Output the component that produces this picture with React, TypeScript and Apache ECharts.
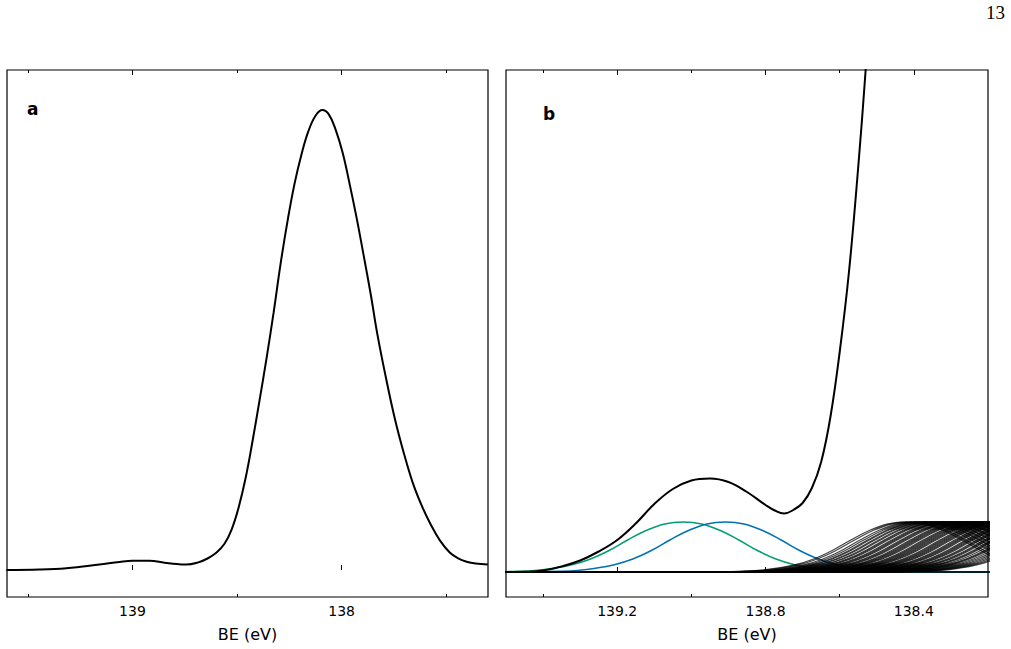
import React, { useEffect, useRef } from "react";
import * as echarts from "echarts";

// ---------- Panel a : full spectrum ----------
const aBE = [
  139.603, 139.445, 139.316, 139.158, 139.062, 139.0, 138.919, 138.847, 138.789, 138.742,
  138.689, 138.641, 138.598, 138.56, 138.526, 138.493, 138.459, 138.426, 138.392, 138.359,
  138.325, 138.292, 138.258, 138.225, 138.191, 138.158, 138.124, 138.092, 138.062, 138.029,
  137.995, 137.962, 137.928, 137.895, 137.861, 137.828, 137.789, 137.746, 137.703, 137.66,
  137.617, 137.574, 137.531, 137.483, 137.445, 137.402, 137.359, 137.301,
];
const aIntensity = [
  0, 0.001, 0.004, 0.012, 0.0175, 0.02, 0.02, 0.016, 0.0128, 0.0117,
  0.016, 0.025, 0.038, 0.057, 0.088, 0.135, 0.2, 0.28, 0.37, 0.46,
  0.56, 0.665, 0.76, 0.84, 0.905, 0.955, 0.988, 1.0, 0.991, 0.958,
  0.907, 0.84, 0.765, 0.685, 0.6, 0.51, 0.42, 0.33, 0.255, 0.19,
  0.14, 0.099, 0.065, 0.038, 0.026, 0.018, 0.014, 0.012,
];

// ---------- Panel b : zoomed region ----------
const bBE = [
  139.5, 139.45, 139.4, 139.35, 139.3, 139.25, 139.2, 139.15, 139.1, 139.05,
  139.0, 138.95, 138.9, 138.85, 138.8, 138.775, 138.75, 138.725, 138.7, 138.675,
  138.65, 138.625, 138.6, 138.575, 138.55, 138.53, 138.52,
];
const bTotal = [
  0, 0.005, 0.03, 0.11, 0.23, 0.41, 0.64, 0.97, 1.36, 1.66,
  1.83, 1.87, 1.8, 1.6, 1.34, 1.23, 1.17, 1.24, 1.38, 1.68,
  2.2, 3.1, 4.4, 6.0, 8.1, 10.04, 11.2,
];

// component peak profile (distance from centre in eV, height)
const profileOffsets = [0, 0.05, 0.1, 0.15, 0.2, 0.25, 0.3, 0.35, 0.4, 0.45, 0.5, 0.6];
const profileHeights = [1.0, 0.96, 0.83, 0.64, 0.43, 0.26, 0.145, 0.075, 0.032, 0.013, 0.004, 0];

const greenCenter = 139.022;
const blueCenter = 138.908;
const fanCenters = [
  138.42, 138.41, 138.395, 138.385, 138.375, 138.37, 138.36, 138.355, 138.345, 138.34,
  138.33, 138.325, 138.32, 138.31, 138.305, 138.3, 138.295, 138.285, 138.28, 138.275,
  138.27, 138.26, 138.255, 138.25, 138.245, 138.24, 138.235, 138.225, 138.22, 138.215,
  138.21, 138.205, 138.2, 138.195, 138.19, 138.18, 138.175, 138.17, 138.165, 138.16,
  138.155, 138.15, 138.14, 138.135, 138.13, 138.125, 138.12, 138.11, 138.105, 138.1,
  138.095, 138.09, 138.08, 138.075, 138.07, 138.06, 138.055, 138.05, 138.04, 138.035,
  138.03, 138.02, 138.01, 138.005, 138.0, 137.99, 137.98, 137.97, 137.96, 137.95,
  137.94, 137.93,
];
const baselineLevel = 0;

// axis ticks
const aMajorTicks = [139, 138];
const aMinorTicks = [139.5, 138.5, 137.5];
const bMajorTicks = [139.2, 138.8, 138.4];
const bMinorTicks = [139.4, 139.0, 138.6];

const FONT = "DejaVu Sans";

function componentCurve(center: number): number[][] {
  const pts: number[][] = [];
  pts.push([139.8, 0]);
  for (let i = profileOffsets.length - 1; i >= 0; i--) {
    pts.push([center + profileOffsets[i], profileHeights[i]]);
  }
  for (let i = 1; i < profileOffsets.length; i++) {
    pts.push([center - profileOffsets[i], profileHeights[i]]);
  }
  pts.push([137.7, 0]);
  return pts;
}

function xAxes(gridIndex: number, min: number, max: number, major: number[], minor: number[]) {
  const base = {
    type: "value",
    gridIndex,
    min,
    max,
    inverse: true,
    splitLine: { show: false },
    axisLine: { show: false },
  };
  const tickStyle = { color: "#000", width: 1 };
  return [
    {
      ...base,
      position: "bottom",
      axisTick: { show: true, inside: true, length: 5, customValues: major, lineStyle: tickStyle },
      axisLabel: {
        show: true,
        customValues: major,
        margin: 7,
        fontSize: 14,
        fontFamily: FONT,
        color: "#000",
      },
      name: "BE (eV)",
      nameLocation: "middle",
      nameGap: 29,
      nameTextStyle: { fontSize: 16, fontFamily: FONT, color: "#000" },
    },
    {
      ...base,
      position: "bottom",
      axisTick: { show: true, inside: true, length: 3, customValues: minor, lineStyle: tickStyle },
      axisLabel: { show: false },
    },
    {
      ...base,
      position: "top",
      axisTick: { show: true, inside: true, length: 5, customValues: major, lineStyle: tickStyle },
      axisLabel: { show: false },
    },
    {
      ...base,
      position: "top",
      axisTick: { show: true, inside: true, length: 3, customValues: minor, lineStyle: tickStyle },
      axisLabel: { show: false },
    },
  ];
}

export default function App() {
  const ref = useRef<HTMLDivElement>(null);
  useEffect(() => {
    if (!ref.current) return;
    const chart = echarts.init(ref.current, null, { renderer: "svg" });
    const yBase = {
      type: "value",
      axisLine: { show: false },
      axisTick: { show: false },
      axisLabel: { show: false },
      splitLine: { show: false },
    };
    const line = (xi: number, yi: number, data: number[][], color: string, width: number) => ({
      type: "line",
      xAxisIndex: xi,
      yAxisIndex: yi,
      data,
      showSymbol: false,
      smooth: 0.4,
      lineStyle: { color, width },
      silent: true,
    });
    const series: any[] = [];
    series.push(line(0, 0, aBE.map((x, i) => [x, aIntensity[i]]), "#000", 2));
    series.push(line(4, 1, componentCurve(greenCenter), "#009E73", 1.5));
    series.push(line(4, 1, componentCurve(blueCenter), "#0072B2", 1.5));
    fanCenters.forEach((c) => {
      series.push(line(4, 1, componentCurve(c), "rgba(0,0,0,0.72)", 1.3));
    });
    series.push({
      ...line(4, 1, [[139.8, baselineLevel], [137.7, baselineLevel]], "#000", 1.6),
      smooth: false,
    });
    series.push(line(4, 1, bBE.map((x, i) => [x, bTotal[i]]), "#000", 2));

    chart.setOption({
      animation: false,
      grid: [
        { left: 7, top: 70, width: 481, height: 527, show: true, borderColor: "#000", borderWidth: 1.2, backgroundColor: "transparent" },
        { left: 506, top: 70, width: 482, height: 527, show: true, borderColor: "#000", borderWidth: 1.2, backgroundColor: "transparent" },
      ],
      xAxis: [
        ...xAxes(0, 137.3, 139.6, aMajorTicks, aMinorTicks),
        ...xAxes(1, 138.2, 139.5, bMajorTicks, bMinorTicks),
      ],
      yAxis: [
        { ...yBase, gridIndex: 0, min: -0.0587, max: 1.087 },
        { ...yBase, gridIndex: 1, min: -0.5, max: 10.04 },
      ],
      series,
      graphic: [
        {
          type: "text",
          left: 27,
          top: 100,
          style: { text: "a", font: `bold 17px "${FONT}"`, fill: "#000" },
        },
        {
          type: "text",
          left: 543,
          top: 105,
          style: { text: "b", font: `bold 17px "${FONT}"`, fill: "#000" },
        },
        {
          type: "text",
          right: 6,
          top: 3,
          style: { text: "13", font: `19px "Liberation Serif"`, fill: "#000" },
        },
      ],
    });
    return () => chart.dispose();
  }, []);
  return (
    <div
      ref={ref}
      style={{ position: "absolute", left: 0, top: 0, width: 1011, height: 649 }}
    />
  );
}
